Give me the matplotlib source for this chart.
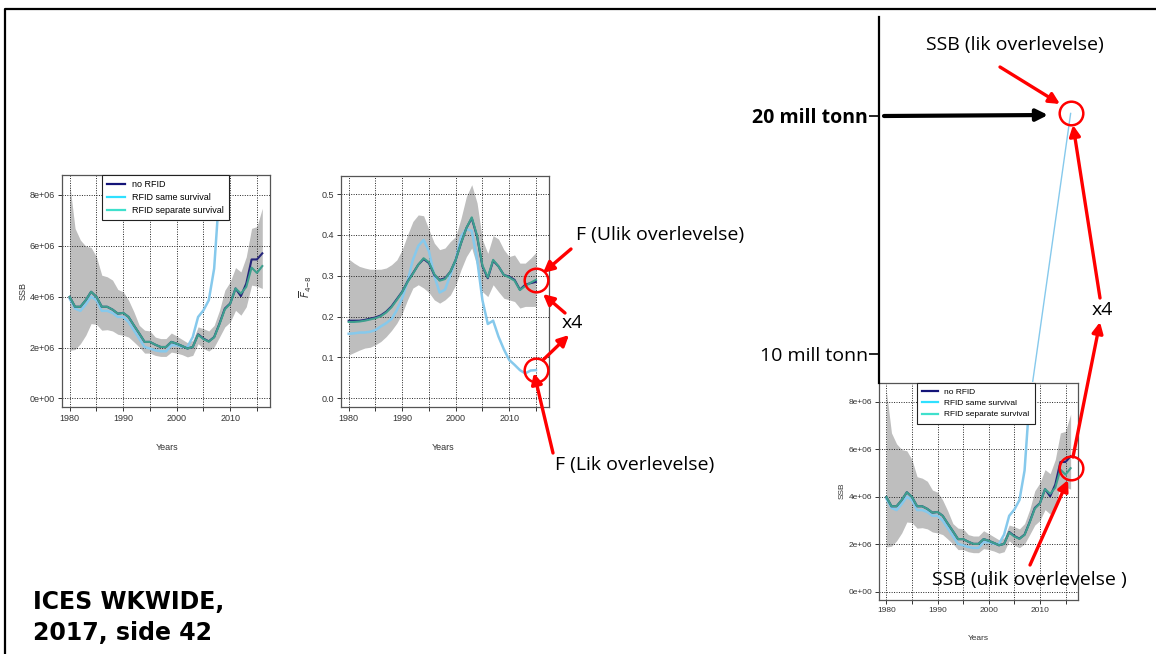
import numpy as np
import matplotlib.pyplot as plt
from matplotlib.patches import FancyArrowPatch
from matplotlib.lines import Line2D

# ---- data ----
years = np.arange(1980, 2017)
f_years = np.arange(1980, 2016)

# SSB (tonnes / 1e6)
ssb_no_rfid = [3.99, 3.6, 3.6, 3.86, 4.19, 3.99, 3.6, 3.6, 3.49, 3.33,
               3.36, 3.2, 2.87, 2.55, 2.22, 2.22, 2.11, 2.02, 2.02, 2.22,
               2.15, 2.06, 1.96, 2.02, 2.52, 2.35, 2.24, 2.41, 2.94, 3.53,
               3.73, 4.32, 4.02, 4.51, 5.46, 5.46, 5.7]
ssb_sep = [3.99, 3.6, 3.6, 3.86, 4.19, 3.99, 3.6, 3.6, 3.49, 3.33,
           3.36, 3.2, 2.87, 2.55, 2.22, 2.22, 2.11, 2.02, 2.02, 2.22,
           2.15, 2.06, 1.96, 2.02, 2.5, 2.33, 2.23, 2.4, 2.92, 3.5,
           3.72, 4.32, 4.12, 4.38, 5.14, 4.93, 5.2]
ssb_same = [3.92, 3.53, 3.44, 3.7, 4.0, 3.86, 3.44, 3.44, 3.36, 3.2,
            3.2, 3.0, 2.68, 2.35, 2.02, 1.96, 1.89, 1.85, 1.85, 2.09,
            2.09, 2.02, 2.02, 2.41, 3.2, 3.46, 3.86, 5.1, 8.2, 9.7]
ssb_high = [8.44, 6.68, 6.22, 5.98, 5.93, 5.56, 4.84, 4.78, 4.65, 4.28,
            4.19, 3.86, 3.4, 2.87, 2.68, 2.65, 2.41, 2.35, 2.35, 2.57,
            2.45, 2.32, 2.19, 2.28, 2.81, 2.74, 2.65, 2.87, 3.46, 4.25,
            4.58, 5.14, 4.97, 5.56, 6.68, 6.75, 7.47]
ssb_low = [1.89, 1.92, 2.15, 2.48, 2.94, 2.91, 2.68, 2.7, 2.65, 2.52,
           2.48, 2.41, 2.22, 2.02, 1.78, 1.78, 1.69, 1.65, 1.65, 1.82,
           1.78, 1.72, 1.63, 1.69, 2.15, 1.96, 1.86, 2.02, 2.41, 2.81,
           3.0, 3.46, 3.27, 3.6, 4.45, 4.41, 4.32]
# hand drawn extension of the "same survival" SSB up to ~20 mill tonn
ext_years = [2008.6, 2016]
ext_ssb = [8.85, 20.1]

# mean F 4-8
f_no_rfid = [0.19, 0.19, 0.19, 0.192, 0.195, 0.198, 0.203, 0.212, 0.225, 0.243,
             0.261, 0.286, 0.306, 0.327, 0.341, 0.331, 0.302, 0.29, 0.294, 0.31,
             0.339, 0.38, 0.417, 0.441, 0.396, 0.323, 0.294, 0.337, 0.323, 0.302,
             0.298, 0.29, 0.266, 0.278, 0.282, 0.285]
f_sep = [0.187, 0.187, 0.188, 0.19, 0.193, 0.196, 0.201, 0.21, 0.223, 0.241,
         0.26, 0.285, 0.305, 0.327, 0.343, 0.333, 0.304, 0.288, 0.292, 0.31,
         0.339, 0.38, 0.417, 0.443, 0.398, 0.325, 0.296, 0.339, 0.323, 0.302,
         0.296, 0.288, 0.265, 0.275, 0.283, 0.29]
f_same = [0.158, 0.159, 0.161, 0.161, 0.163, 0.167, 0.176, 0.184, 0.194, 0.216,
          0.245, 0.286, 0.339, 0.373, 0.388, 0.36, 0.3, 0.259, 0.266, 0.302,
          0.339, 0.396, 0.415, 0.41, 0.34, 0.24, 0.182, 0.19, 0.151, 0.12,
          0.094, 0.082, 0.069, 0.061, 0.068, 0.069]
f_high = [0.341, 0.331, 0.323, 0.319, 0.316, 0.316, 0.316, 0.319, 0.327, 0.339,
          0.364, 0.4, 0.433, 0.449, 0.447, 0.413, 0.38, 0.364, 0.368, 0.384,
          0.396, 0.441, 0.494, 0.523, 0.478, 0.388, 0.355, 0.398, 0.39, 0.364,
          0.347, 0.351, 0.331, 0.331, 0.343, 0.357]
f_low = [0.106, 0.112, 0.118, 0.123, 0.125, 0.131, 0.139, 0.151, 0.166, 0.184,
         0.208, 0.241, 0.27, 0.278, 0.27, 0.259, 0.241, 0.233, 0.241, 0.253,
         0.278, 0.315, 0.347, 0.368, 0.323, 0.261, 0.249, 0.278, 0.261, 0.245,
         0.241, 0.237, 0.221, 0.225, 0.225, 0.225]

labels = ['no RFID', 'RFID same survival', 'RFID separate survival']

E6 = 1e6
C_NO = '#25257a'
C_SAME = '#86c9ec'
C_SEP = '#3e9f8e'
LEG_COLS = ['#141478', '#2fe0ff', '#3fe0cc']
BAND = '#bebebe'
RED = '#ff0000'
RFONT = 'Liberation Sans'
SFONT = 'Open Sans'
TFS = 14

W, H = 1156, 654
fig = plt.figure(figsize=(W / 100, H / 100), dpi=100)


def fp(x, y):
    return x / W, 1 - y / H


def box(l, t, r, b):
    return [l / W, 1 - b / H, (r - l) / W, (b - t) / H]


def r_style(ax, yt, ylab, fs):
    ax.set_xlim(1978.56, 2017.44)
    ax.set_xticks(range(1980, 2016, 5))
    ax.set_xticklabels(['1980', '', '1990', '', '2000', '', '2010', ''])
    ax.set_yticks(yt)
    ax.set_yticklabels(ylab)
    for v in range(1980, 2016, 5):
        ax.axvline(v, color='#222222', ls=(0, (1, 1.5)), lw=0.7, zorder=2)
    for v in yt:
        ax.axhline(v, color='#222222', ls=(0, (1, 1.5)), lw=0.7, zorder=2)
    ax.tick_params(direction='out', length=3, width=0.7, colors='#333333',
                   labelsize=fs, pad=2)
    for lab in ax.get_xticklabels() + ax.get_yticklabels():
        lab.set_fontfamily(RFONT)
    for s in ax.spines.values():
        s.set_color('#555555')
        s.set_linewidth(0.9)


def legend(ax, fs, x0):
    hs = [Line2D([], [], color=c, lw=1.6) for c in LEG_COLS]
    lg = ax.legend(hs, labels, loc='upper left', bbox_to_anchor=(x0, 1.0),
                   fancybox=False, framealpha=1, edgecolor='#222222',
                   prop={'family': RFONT, 'size': fs}, handlelength=1.9,
                   handletextpad=0.8, labelspacing=0.42, borderpad=0.6,
                   borderaxespad=0)
    lg.get_frame().set_linewidth(0.8)
    lg.set_zorder(10)


def ssb_panel(ax, fs):
    ax.fill_between(years, np.array(ssb_low) * E6, np.array(ssb_high) * E6,
                    color=BAND, lw=0, zorder=1)
    ax.plot(years[:len(ssb_same)], np.array(ssb_same) * E6, color=C_SAME, lw=1.8, zorder=3)
    ax.plot(years, np.array(ssb_no_rfid) * E6, color=C_NO, lw=1.5, zorder=4)
    ax.plot(years, np.array(ssb_sep) * E6, color=C_SEP, lw=1.5, zorder=5)
    ax.set_ylim(-0.3376 * E6, 8.7776 * E6)
    r_style(ax, [0, 2 * E6, 4 * E6, 6 * E6, 8 * E6],
            ['0e+00', '2e+06', '4e+06', '6e+06', '8e+06'], fs)


# ---- panel 1: SSB ----
ax1 = fig.add_axes(box(62, 175, 270, 407))
ssb_panel(ax1, 6.5)
legend(ax1, 6.5, 0.192)
fig.text(*fp(167, 447), 'Years', ha='center', va='center', fontsize=6.5, family=RFONT, color='#333333')
fig.text(*fp(23, 291), 'SSB', ha='center', va='center', rotation=90, fontsize=6.5, family=RFONT, color='#333333')

# ---- panel 2: F ----
ax2 = fig.add_axes(box(341, 176, 549, 407))
ax2.fill_between(f_years, f_low, f_high, color=BAND, lw=0, zorder=1)
ax2.plot(f_years, f_same, color=C_SAME, lw=1.8, zorder=3)
ax2.plot(f_years, f_no_rfid, color=C_NO, lw=1.5, zorder=4)
ax2.plot(f_years, f_sep, color=C_SEP, lw=1.5, zorder=5)
ax2.set_ylim(-0.0213, 0.5443)
r_style(ax2, [0, 0.1, 0.2, 0.3, 0.4, 0.5], ['0.0', '0.1', '0.2', '0.3', '0.4', '0.5'], 6.5)
fig.text(*fp(443, 447), 'Years', ha='center', va='center', fontsize=6.5, family=RFONT, color='#333333')
fig.text(*fp(306, 287), r'$\overline{F}_{4\mathrm{-}8}$', ha='center', va='center', rotation=90,
         fontsize=7.5, color='#333333')
for fv in (f_sep[-1], f_same[-1]):
    ax2.plot([f_years[-1]], [fv], marker='o', ms=17, mfc='none', mec=RED, mew=1.8,
             clip_on=False, zorder=20)

# ---- panel 3: SSB with tall axis ----
ax3 = fig.add_axes(box(879, 383, 1078, 600))
ssb_panel(ax3, 6)
legend(ax3, 6, 0.19)
fig.text(*fp(978, 639), 'Years', ha='center', va='center', fontsize=6, family=RFONT, color='#333333')
fig.text(*fp(842, 491), 'SSB', ha='center', va='center', rotation=90, fontsize=6, family=RFONT, color='#333333')
ax3.plot([years[-1]], [ssb_sep[-1] * E6], marker='o', ms=17, mfc='none', mec=RED, mew=1.8,
         clip_on=False, zorder=20)

lo, hi = ax3.get_ylim()
ppu = (600 - 383) / (hi - lo)
axt = fig.add_axes(box(879, 17, 1078, 600))
axt.patch.set_alpha(0)
axt.set_xlim(ax3.get_xlim())
axt.set_ylim(lo, lo + (600 - 17) / ppu)
for k in ('top', 'right', 'bottom'):
    axt.spines[k].set_visible(False)
axt.spines['left'].set_bounds(hi, lo + (600 - 17) / ppu)
axt.spines['left'].set_linewidth(1.6)
axt.set_xticks([])
axt.set_yticks([10 * E6, 20 * E6])
axt.set_yticklabels(['10 mill tonn', '20 mill tonn'])
axt.tick_params(axis='y', length=7, width=1.2, pad=1, labelsize=TFS)
for lab in axt.get_yticklabels():
    lab.set_fontfamily(SFONT)
axt.get_yticklabels()[1].set_fontweight('bold')
axt.plot(ext_years, np.array(ext_ssb) * E6, color=C_SAME, lw=1.0)
axt.plot([ext_years[-1]], [ext_ssb[-1] * E6], marker='o', ms=17, mfc='none', mec=RED, mew=1.8,
         clip_on=False, zorder=20)


# ---- slide decorations ----
def arrow(p0, p1, color=RED, lw=2.4, ms=16):
    a = FancyArrowPatch(fp(*p0), fp(*p1), transform=fig.transFigure,
                        arrowstyle='-|>', mutation_scale=ms, lw=lw, color=color,
                        shrinkA=0, shrinkB=0, zorder=30)
    fig.add_artist(a)


arrow((571, 249), (543, 273))
arrow((565, 313), (543, 294))
arrow((543, 360), (569, 335))
arrow((553, 453), (534, 373))
arrow((1000, 67), (1060, 104))
arrow((1100, 298), (1073, 125))
arrow((1073, 457), (1100, 322))
arrow((1030, 565), (1068, 480))
arrow((884, 116), (1048, 115), color='black', lw=3, ms=17)

fig.text(*fp(576, 235), 'F (Ulik overlevelse)', ha='left', va='center', fontsize=TFS, family=SFONT)
fig.text(*fp(572, 323), 'x4', ha='center', va='center', fontsize=TFS, family=SFONT)
fig.text(*fp(555, 465), 'F (Lik overlevelse)', ha='left', va='center', fontsize=TFS, family=SFONT)
fig.text(*fp(1015, 45), 'SSB (lik overlevelse)', ha='center', va='center', fontsize=TFS, family=SFONT)
fig.text(*fp(1102, 310), 'x4', ha='center', va='center', fontsize=TFS, family=SFONT)
fig.text(*fp(1029, 580), 'SSB (ulik overlevelse )', ha='center', va='center', fontsize=TFS, family=SFONT)
fig.text(*fp(33, 602), 'ICES WKWIDE,', ha='left', va='center', fontsize=17, family='DejaVu Sans', weight='bold')
fig.text(*fp(33, 633), '2017, side 42', ha='left', va='center', fontsize=17, family='DejaVu Sans', weight='bold')

# slide frame
fig.add_artist(Line2D([5 / W, 5 / W, 1], [0, 1 - 9 / H, 1 - 9 / H], transform=fig.transFigure,
                      color='black', lw=1.6))

fig.savefig('out.png', dpi=100)
